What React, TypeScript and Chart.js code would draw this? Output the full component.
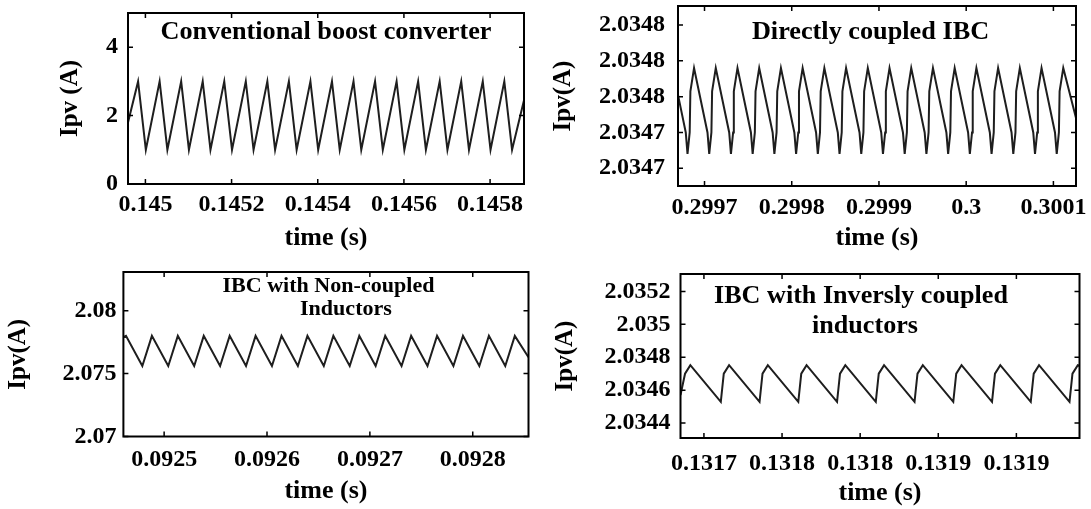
import React, { useEffect, useRef } from 'react';
import { Chart, registerables } from 'chart.js';

Chart.register(...registerables);
Chart.defaults.font.family = "'Liberation Serif', 'Times New Roman', serif";
Chart.defaults.font.weight = 'bold';
Chart.defaults.color = '#000';

// ---------- Panel 1: Conventional boost converter ----------
const p1Time = [
  0.1449596,
  0.144983, 0.145001,
  0.145033, 0.145051,
  0.145083, 0.145101,
  0.145133, 0.145151,
  0.145183, 0.145201,
  0.145233, 0.145251,
  0.145283, 0.145301,
  0.145333, 0.145351,
  0.145383, 0.145401,
  0.145433, 0.145451,
  0.145483, 0.145501,
  0.145533, 0.145551,
  0.145583, 0.145601,
  0.145633, 0.145651,
  0.145683, 0.145701,
  0.145733, 0.145751,
  0.145783, 0.145801,
  0.145833, 0.145851,
  0.1458787,
];
const p1Ipv = [
  1.8,
  3.0, 1.0,
  3.0, 1.0,
  3.0, 1.0,
  3.0, 1.0,
  3.0, 1.0,
  3.0, 1.0,
  3.0, 1.0,
  3.0, 1.0,
  3.0, 1.0,
  3.0, 1.0,
  3.0, 1.0,
  3.0, 1.0,
  3.0, 1.0,
  3.0, 1.0,
  3.0, 1.0,
  3.0, 1.0,
  3.0, 1.0,
  3.0, 1.0,
  2.45,
];
const p1XTicks = [0.145, 0.1452, 0.1454, 0.1456, 0.1458];
const p1XLabels = ['0.145', '0.1452', '0.1454', '0.1456', '0.1458'];
const p1YTicks = [0, 2, 4];
const p1YLabels = ['0', '2', '4'];

// ---------- Panel 2: Directly coupled IBC ----------
const p2Time = [
  0.2996696,
  0.2996785, 0.2996805, 0.299683, 0.2996838,
  0.299688, 0.2997034, 0.2997054, 0.2997079, 0.2997087,
  0.2997129, 0.2997283, 0.2997303, 0.2997328, 0.2997336,
  0.2997378, 0.2997532, 0.2997552, 0.2997577, 0.2997585,
  0.2997627, 0.2997781, 0.2997801, 0.2997826, 0.2997834,
  0.2997876, 0.299803, 0.299805, 0.2998075, 0.2998083,
  0.2998125, 0.2998279, 0.2998299, 0.2998324, 0.2998332,
  0.2998374, 0.2998528, 0.2998548, 0.2998573, 0.2998581,
  0.2998623, 0.2998777, 0.2998797, 0.2998822, 0.299883,
  0.2998872, 0.2999026, 0.2999046, 0.2999071, 0.2999079,
  0.2999121, 0.2999275, 0.2999295, 0.299932, 0.2999328,
  0.299937, 0.2999524, 0.2999544, 0.2999569, 0.2999577,
  0.2999619, 0.2999773, 0.2999793, 0.2999818, 0.2999826,
  0.2999868, 0.3000022, 0.3000042, 0.3000067, 0.3000075,
  0.3000117, 0.3000271, 0.3000291, 0.3000316, 0.3000324,
  0.3000366, 0.300052, 0.300054, 0.3000565, 0.3000573,
  0.3000615, 0.3000769, 0.3000789, 0.3000814, 0.3000822,
  0.3000864, 0.3001018, 0.3001038, 0.3001063, 0.3001071,
  0.3001113, 0.3001259,
];
const p2Ipv = [
  2.034761,
  2.03474, 2.034728, 2.03474, 2.034763,
  2.034776, 2.03474, 2.034728, 2.03474, 2.034763,
  2.034776, 2.03474, 2.034728, 2.03474, 2.034763,
  2.034776, 2.03474, 2.034728, 2.03474, 2.034763,
  2.034776, 2.03474, 2.034728, 2.03474, 2.034763,
  2.034776, 2.03474, 2.034728, 2.03474, 2.034763,
  2.034776, 2.03474, 2.034728, 2.03474, 2.034763,
  2.034776, 2.03474, 2.034728, 2.03474, 2.034763,
  2.034776, 2.03474, 2.034728, 2.03474, 2.034763,
  2.034776, 2.03474, 2.034728, 2.03474, 2.034763,
  2.034776, 2.03474, 2.034728, 2.03474, 2.034763,
  2.034776, 2.03474, 2.034728, 2.03474, 2.034763,
  2.034776, 2.03474, 2.034728, 2.03474, 2.034763,
  2.034776, 2.03474, 2.034728, 2.03474, 2.034763,
  2.034776, 2.03474, 2.034728, 2.03474, 2.034763,
  2.034776, 2.03474, 2.034728, 2.03474, 2.034763,
  2.034776, 2.03474, 2.034728, 2.03474, 2.034763,
  2.034776, 2.03474, 2.034728, 2.03474, 2.034763,
  2.034776, 2.034748,
];
const p2XTicks = [0.2997, 0.2998, 0.2999, 0.3, 0.3001];
const p2XLabels = ['0.2997', '0.2998', '0.2999', '0.3', '0.3001'];
const p2YTicks = [2.03472, 2.03474, 2.03476, 2.03478, 2.0348];
const p2YLabels = ['2.0347', '2.0347', '2.0348', '2.0348', '2.0348'];

// ---------- Panel 3: IBC with Non-coupled Inductors ----------
const p3Time = [
  0.0924604,
  0.0924629, 0.0924788,
  0.0924881, 0.092504,
  0.0925133, 0.0925292,
  0.0925385, 0.0925544,
  0.0925637, 0.0925796,
  0.0925889, 0.0926048,
  0.0926141, 0.09263,
  0.0926393, 0.0926552,
  0.0926645, 0.0926804,
  0.0926897, 0.0927056,
  0.0927149, 0.0927308,
  0.0927401, 0.092756,
  0.0927653, 0.0927812,
  0.0927905, 0.0928064,
  0.0928157, 0.0928316,
  0.0928409,
  0.0928542,
];
const p3Ipv = [
  2.0779,
  2.078, 2.0756,
  2.078, 2.0756,
  2.078, 2.0756,
  2.078, 2.0756,
  2.078, 2.0756,
  2.078, 2.0756,
  2.078, 2.0756,
  2.078, 2.0756,
  2.078, 2.0756,
  2.078, 2.0756,
  2.078, 2.0756,
  2.078, 2.0756,
  2.078, 2.0756,
  2.078, 2.0756,
  2.078, 2.0756,
  2.078,
  2.0763,
];
const p3XTicks = [0.0925, 0.0926, 0.0927, 0.0928];
const p3XLabels = ['0.0925', '0.0926', '0.0927', '0.0928'];
const p3YTicks = [2.07, 2.075, 2.08];
const p3YLabels = ['2.07', '2.075', '2.08'];

// ---------- Panel 4: IBC with Inversly coupled inductors ----------
const p4Time = [
  0.131685, 0.1316879,
  0.1316913, 0.1317108, 0.1317127,
  0.1317161, 0.1317356, 0.1317375,
  0.1317409, 0.1317604, 0.1317623,
  0.1317657, 0.1317852, 0.1317871,
  0.1317905, 0.13181, 0.1318119,
  0.1318153, 0.1318348, 0.1318367,
  0.1318401, 0.1318596, 0.1318615,
  0.1318649, 0.1318844, 0.1318863,
  0.1318897, 0.1319092, 0.1319111,
  0.1319145, 0.131934, 0.1319359,
  0.1319393, 0.1319404,
];
const p4Ipv = [
  2.03457, 2.0347,
  2.034752, 2.034529, 2.0347,
  2.034752, 2.034529, 2.0347,
  2.034752, 2.034529, 2.0347,
  2.034752, 2.034529, 2.0347,
  2.034752, 2.034529, 2.0347,
  2.034752, 2.034529, 2.0347,
  2.034752, 2.034529, 2.0347,
  2.034752, 2.034529, 2.0347,
  2.034752, 2.034529, 2.0347,
  2.034752, 2.034529, 2.0347,
  2.034752, 2.034748,
];
const p4XTicks = [0.1317, 0.13175, 0.1318, 0.13185, 0.1319];
const p4XLabels = ['0.1317', '0.1318', '0.1318', '0.1319', '0.1319'];
const p4YTicks = [2.0344, 2.0346, 2.0348, 2.035, 2.0352];
const p4YLabels = ['2.0344', '2.0346', '2.0348', '2.035', '2.0352'];

type TitleLine = { text: string; dx: number; dy: number };
type Panel = {
  time: number[];
  ipv: number[];
  xMin: number; xMax: number; yMin: number; yMax: number;
  xTicks: number[]; xLabels: string[]; yTicks: number[]; yLabels: string[];
  yTitle: string; xTitle: string;
  titleLines: TitleLine[]; titleSize: number; titleScaleX: number;
  box: { left: number; top: number; width: number; height: number };
  area: { left: number; top: number; right: number; bottom: number };
  yTickPad: number; xTickPad: number; yTitlePad: number; xTitlePad: number;
};

const panels: Panel[] = [
  {
    time: p1Time, ipv: p1Ipv,
    xMin: 0.1449596, xMax: 0.1458787, yMin: 0, yMax: 5,
    xTicks: p1XTicks, xLabels: p1XLabels, yTicks: p1YTicks, yLabels: p1YLabels,
    yTitle: 'Ipv (A)', xTitle: 'time (s)',
    titleLines: [{ text: 'Conventional boost converter', dx: 0, dy: 20 }],
    titleSize: 25, titleScaleX: 1.05,
    box: { left: 0, top: 0, width: 544, height: 255 },
    area: { left: 128, top: 13, right: 524, bottom: 184 },
    yTickPad: 10, xTickPad: 6.6, yTitlePad: 56, xTitlePad: 1.4,
  },
  {
    time: p2Time, ipv: p2Ipv,
    xMin: 0.2996696, xMax: 0.3001259, yMin: 2.0347101, yMax: 2.0348106,
    xTicks: p2XTicks, xLabels: p2XLabels, yTicks: p2YTicks, yLabels: p2YLabels,
    yTitle: 'Ipv(A)', xTitle: 'time (s)',
    titleLines: [{ text: 'Directly coupled IBC', dx: -6.5, dy: 27 }],
    titleSize: 25, titleScaleX: 1.05,
    box: { left: 545, top: 0, width: 546, height: 255 },
    area: { left: 678, top: 6, right: 1076, bottom: 186 },
    yTickPad: 13, xTickPad: 7.6, yTitlePad: 4, xTitlePad: 1.4,
  },
  {
    time: p3Time, ipv: p3Ipv,
    xMin: 0.0924604, xMax: 0.0928542, yMin: 2.07, yMax: 2.083076,
    xTicks: p3XTicks, xLabels: p3XLabels, yTicks: p3YTicks, yLabels: p3YLabels,
    yTitle: 'Ipv(A)', xTitle: 'time (s)',
    titleLines: [
      { text: 'IBC with Non-coupled', dx: 2.5, dy: 14.7 },
      { text: 'Inductors', dx: 20, dy: 38 },
    ],
    titleSize: 21, titleScaleX: 1.05,
    box: { left: 0, top: 255, width: 545, height: 254 },
    area: { left: 123.4, top: 272, right: 528.5, bottom: 436.5 },
    yTickPad: 7, xTickPad: 9, yTitlePad: 4, xTitlePad: 1.7,
  },
  {
    time: p4Time, ipv: p4Ipv,
    xMin: 0.131685, xMax: 0.1319404, yMin: 2.0343088, yMax: 2.0353064,
    xTicks: p4XTicks, xLabels: p4XLabels, yTicks: p4YTicks, yLabels: p4YLabels,
    yTitle: 'Ipv(A)', xTitle: 'time (s)',
    titleLines: [
      { text: 'IBC with Inversly coupled', dx: -19, dy: 22.7 },
      { text: 'inductors', dx: -15, dy: 52.7 },
    ],
    titleSize: 25, titleScaleX: 1.045,
    box: { left: 545, top: 255, width: 546, height: 254 },
    area: { left: 680.5, top: 274, right: 1079.5, bottom: 438 },
    yTickPad: 10, xTickPad: 11, yTitlePad: 6, xTitlePad: 0.4,
  },
];

function PanelChart({ p }: { p: Panel }) {
  const ref = useRef<HTMLCanvasElement>(null);
  useEffect(() => {
    const canvas = ref.current;
    if (!canvas) return;
    const yW = p.area.left - p.box.left;
    const xH = p.box.top + p.box.height - p.area.bottom;
    const framePlugin = {
      id: 'frameAndTitle',
      afterDraw(chart: any) {
        const { ctx, chartArea: a, scales } = chart;
        ctx.save();
        ctx.strokeStyle = '#000';
        ctx.lineWidth = 1.5;
        ctx.beginPath();
        for (const v of p.xTicks) {
          const x = scales.x.getPixelForValue(v);
          ctx.moveTo(x, a.bottom); ctx.lineTo(x, a.bottom - 5);
          ctx.moveTo(x, a.top); ctx.lineTo(x, a.top + 5);
        }
        for (const v of p.yTicks) {
          const y = scales.y.getPixelForValue(v);
          ctx.moveTo(a.left, y); ctx.lineTo(a.left + 5, y);
          ctx.moveTo(a.right, y); ctx.lineTo(a.right - 5, y);
        }
        ctx.stroke();
        ctx.lineWidth = 2;
        ctx.strokeRect(a.left, a.top, a.right - a.left, a.bottom - a.top);
        ctx.fillStyle = '#000';
        ctx.font = `bold ${p.titleSize}px 'Liberation Serif', 'Times New Roman', serif`;
        ctx.textAlign = 'center';
        ctx.textBaseline = 'middle';
        const cx = (a.left + a.right) / 2;
        for (const l of p.titleLines) {
          ctx.save();
          ctx.translate(cx + l.dx, a.top + l.dy);
          ctx.scale(p.titleScaleX, 1);
          ctx.fillText(l.text, 0, 0);
          ctx.restore();
        }
        ctx.restore();
      },
    };
    const chart = new Chart(canvas, {
      type: 'line',
      data: {
        datasets: [{
          data: p.time.map((t, i) => ({ x: t, y: p.ipv[i] })),
          borderColor: '#1e1e1e',
          borderWidth: 2,
          pointRadius: 0,
          tension: 0,
          fill: false,
        }],
      },
      options: {
        responsive: false,
        animation: false,
        events: [],
        layout: {
          padding: {
            left: 0,
            top: p.area.top - p.box.top,
            right: p.box.left + p.box.width - p.area.right,
            bottom: 0,
          },
        },
        plugins: { legend: { display: false }, tooltip: { enabled: false }, title: { display: false } },
        scales: {
          x: {
            type: 'linear',
            min: p.xMin,
            max: p.xMax,
            grid: { display: false, drawTicks: false },
            border: { display: false },
            ticks: {
              autoSkip: false,
              maxRotation: 0,
              padding: p.xTickPad,
              color: '#000',
              font: { size: 24, weight: 'bold' },
              callback: (_v: any, i: number) => p.xLabels[i],
            },
            afterBuildTicks: (s: any) => { s.ticks = p.xTicks.map((v) => ({ value: v })); },
            afterFit: (s: any) => {
              s.height = xH;
              s.paddingLeft = 0; s.paddingRight = 0; s.paddingTop = 0; s.paddingBottom = 0;
            },
            title: {
              display: true,
              text: p.xTitle,
              color: '#000',
              font: { size: 26, weight: 'bold' },
              padding: { top: 0, bottom: p.xTitlePad },
            },
          },
          y: {
            type: 'linear',
            min: p.yMin,
            max: p.yMax,
            grid: { display: false, drawTicks: false },
            border: { display: false },
            ticks: {
              autoSkip: false,
              padding: p.yTickPad,
              color: '#000',
              font: { size: 24, weight: 'bold' },
              callback: (_v: any, i: number) => p.yLabels[i],
            },
            afterBuildTicks: (s: any) => { s.ticks = p.yTicks.map((v) => ({ value: v })); },
            afterFit: (s: any) => {
              s.width = yW;
              s.paddingLeft = 0; s.paddingRight = 0; s.paddingTop = 0; s.paddingBottom = 0;
            },
            title: {
              display: true,
              text: p.yTitle,
              color: '#000',
              font: { size: 25, weight: 'bold' },
              padding: { top: p.yTitlePad, bottom: 0 },
            },
          },
        },
      } as any,
      plugins: [framePlugin],
    });
    return () => chart.destroy();
  }, [p]);
  return (
    <canvas
      ref={ref}
      width={p.box.width}
      height={p.box.height}
      style={{ position: 'absolute', left: p.box.left, top: p.box.top, width: p.box.width, height: p.box.height }}
    />
  );
}

export default function App() {
  return (
    <div style={{ position: 'fixed', left: 0, top: 0, width: 1091, height: 509, background: '#fff', overflow: 'hidden' }}>
      {panels.map((p, i) => (
        <PanelChart key={i} p={p} />
      ))}
    </div>
  );
}
